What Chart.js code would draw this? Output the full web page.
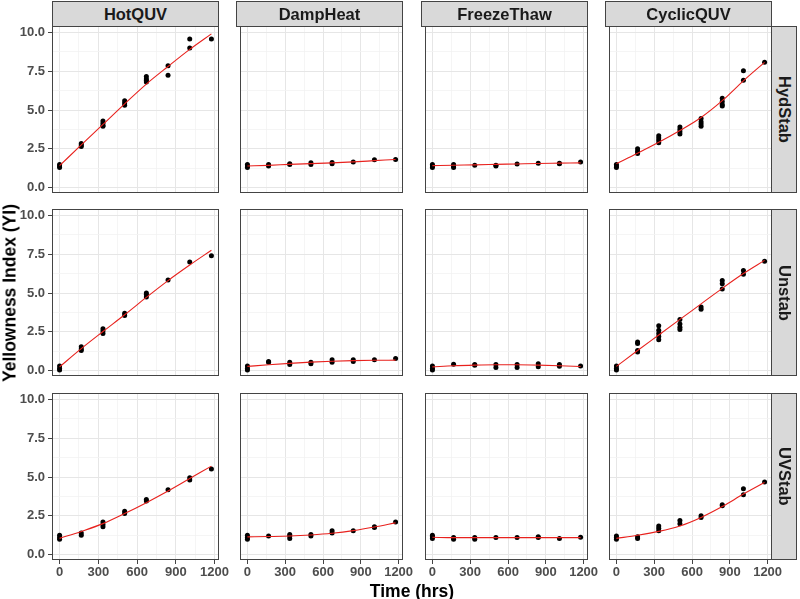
<!DOCTYPE html>
<html>
<head>
<meta charset="utf-8">
<script src="https://cdn.jsdelivr.net/npm/chart.js@4.4.1/dist/chart.umd.min.js"></script>
<style>
  html, body { margin: 0; padding: 0; background: #ffffff; }
  #root { position: relative; width: 800px; height: 599px; overflow: hidden; background: #fff;
          font-family: "Liberation Sans", Arial, sans-serif; }
  canvas { position: absolute; }
  .strip { position: absolute; box-sizing: border-box; background: #d9d9d9; border: 1px solid #444;
           color: #1a1a1a; font-weight: bold; font-size: 16.5px; display: flex; align-items: center;
           justify-content: center; }
  .strip.right span { writing-mode: vertical-rl; }
  .title { position: absolute; font-weight: bold; font-size: 17.5px; color: #000; white-space: nowrap; }
</style>
</head>
<body>
<div id="root"></div>
<script>
// ---------------- data ----------------
const columns = ['HotQUV', 'DampHeat', 'FreezeThaw', 'CyclicQUV'];
const rows = ['HydStab', 'Unstab', 'UVStab'];
const times = [0, 168, 336, 504, 672, 840, 1008, 1176];
const xTicks = [0, 300, 600, 900, 1200];
const xMinor = [150, 450, 750, 1050];
const yTicks = [0, 2.5, 5, 7.5, 10];
const yMinor = [1.25, 3.75, 6.25, 8.75];

// HydStab row
const hotquvHydstab = [[1.5,1.4,1.3],[2.85,2.75,2.65],[4.3,4.15,4.0,3.95],[5.6,5.45,5.3],[7.15,7.0,6.9,6.8],[7.85,7.23],[9.57,8.99],[9.57]];
const hotquvHydstabFit = [1.42,2.75,4.07,5.4,6.67,7.8,8.9,9.9];
const dampheatHydstab = [[1.5,1.4,1.3],[1.5,1.4],[1.55,1.5],[1.6,1.5],[1.62,1.55],[1.65],[1.8],[1.82]];
const dampheatHydstabFit = [1.4,1.44,1.5,1.55,1.6,1.66,1.74,1.82];
const freezethawHydstab = [[1.5,1.4,1.3],[1.5,1.4,1.3],[1.45],[1.45,1.4],[1.52],[1.58],[1.58,1.55],[1.65]];
const freezethawHydstabFit = [1.42,1.45,1.47,1.5,1.53,1.56,1.58,1.6];
const cyclicquvHydstab = [[1.5,1.4,1.3],[2.5,2.35,2.2],[3.35,3.2,3.05,2.9],[3.9,3.75,3.6,3.45],[4.45,4.25,4.1,3.95],[5.75,5.55,5.35,5.25],[7.53,6.91],[8.07]];
const cyclicquvHydstabFit = [1.55,2.22,2.92,3.68,4.52,5.6,6.88,8.07];

// Unstab row
const hotquvUnstab = [[0.3,0.15,0.05],[1.55,1.4,1.3],[2.7,2.55,2.4],[3.7,3.55],[5.0,4.9,4.75],[5.84],[7.0],[7.39]];
const hotquvUnstabFit = [0.25,1.42,2.52,3.6,4.72,5.8,6.8,7.75];
const dampheatUnstab = [[0.3,0.15,0.05],[0.6,0.55],[0.55,0.4],[0.55,0.45],[0.7,0.55],[0.7,0.6],[0.7],[0.78]];
const dampheatUnstabFit = [0.28,0.38,0.47,0.55,0.61,0.65,0.67,0.68];
const freezethawUnstab = [[0.3,0.15,0.05],[0.42],[0.4,0.35],[0.4,0.2],[0.4,0.2],[0.45,0.25],[0.4,0.28],[0.3]];
const freezethawUnstabFit = [0.25,0.32,0.36,0.38,0.38,0.36,0.32,0.27];
const cyclicquvUnstab = [[0.3,0.15,0.05],[1.85,1.75,1.3,1.2],[2.9,2.6,2.4,2.2,2.0],[3.3,3.0,2.8,2.65],[4.1,3.95],[5.8,5.6,5.25],[6.45,6.2],[7.04]];
const cyclicquvUnstabFit = [0.28,1.3,2.3,3.3,4.3,5.3,6.25,7.1];

// UVStab row
const hotquvUvstab = [[1.25,1.1,1.0],[1.4,1.25],[2.1,1.95,1.8],[2.8,2.65],[3.55,3.45],[4.18],[4.95,4.8],[5.51]];
const hotquvUvstabFit = [1.05,1.5,2.0,2.65,3.35,4.1,4.9,5.7];
const dampheatUvstab = [[1.25,1.1,1.0],[1.2],[1.3,1.2,1.05],[1.3,1.2],[1.55,1.4],[1.55],[1.8,1.75],[2.1]];
const dampheatUvstabFit = [1.15,1.17,1.2,1.27,1.38,1.55,1.78,2.05];
const freezethawUvstab = [[1.25,1.15,1.05],[1.1,1.0],[1.1,1.0],[1.1],[1.1],[1.15,1.1],[1.05],[1.12]];
const freezethawUvstabFit = [1.12,1.1,1.1,1.1,1.1,1.1,1.1,1.1];
const cyclicquvUvstab = [[1.2,1.1,1.0],[1.15,1.05],[1.85,1.7,1.55],[2.2,2.0],[2.5,2.4],[3.21,3.15],[4.25,3.86],[4.68]];
const cyclicquvUvstabFit = [1.05,1.25,1.5,1.85,2.4,3.1,3.9,4.65];

const panelPoints = [
  [hotquvHydstab, dampheatHydstab, freezethawHydstab, cyclicquvHydstab],
  [hotquvUnstab, dampheatUnstab, freezethawUnstab, cyclicquvUnstab],
  [hotquvUvstab, dampheatUvstab, freezethawUvstab, cyclicquvUvstab]
];
const panelFits = [
  [hotquvHydstabFit, dampheatHydstabFit, freezethawHydstabFit, cyclicquvHydstabFit],
  [hotquvUnstabFit, dampheatUnstabFit, freezethawUnstabFit, cyclicquvUnstabFit],
  [hotquvUvstabFit, dampheatUvstabFit, freezethawUvstabFit, cyclicquvUvstabFit]
];

// ---------------- layout ----------------
const root = document.getElementById('root');
Chart.defaults.font.family = '"Liberation Sans", Arial, sans-serif';
const colLeft = [52, 236, 421, 605];
const rowTop = [26, 209, 393];
const PW = 167, PH = 167;
const YAXW = 52, XAXH = 30, MT = 6, MR = 18, MB = 6;

const borderPlugin = {
  id: 'panelBorder',
  afterDraw(chart) {
    const a = chart.chartArea, ctx = chart.ctx;
    ctx.save();
    ctx.strokeStyle = '#444';
    ctx.lineWidth = 1;
    ctx.strokeRect(Math.round(a.left) + 0.5, Math.round(a.top) + 0.5,
                   Math.round(a.right - a.left) - 1, Math.round(a.bottom - a.top) - 1);
    ctx.restore();
  }
};

function isIn(arr, v) { return arr.some(t => Math.abs(t - v) < 1e-9); }

for (let r = 0; r < rows.length; r++) {
  for (let c = 0; c < columns.length; c++) {
    const showY = c === 0, showX = r === rows.length - 1;
    const left = colLeft[c] - (showY ? YAXW : 0);
    const top = rowTop[r] - MT;
    const w = PW + (showY ? YAXW : 0) + MR;
    const h = PH + MT + (showX ? XAXH : MB);
    const cv = document.createElement('canvas');
    cv.width = w; cv.height = h;
    cv.style.left = left + 'px'; cv.style.top = top + 'px';
    cv.style.width = w + 'px'; cv.style.height = h + 'px';
    root.appendChild(cv);

    const pts = [];
    panelPoints[r][c].forEach((vals, i) => vals.forEach(v => pts.push({ x: times[i], y: v })));
    const fit = panelFits[r][c].map((v, i) => ({ x: times[i], y: v }));

    new Chart(cv, {
      type: 'scatter',
      data: {
        datasets: [
          { data: fit, showLine: true, borderColor: '#e8211d', borderWidth: 1.1, pointRadius: 0,
            cubicInterpolationMode: 'monotone', fill: false },
          { data: pts, backgroundColor: '#000', borderColor: '#000', pointRadius: 2.5, borderWidth: 0 }
        ]
      },
      options: {
        responsive: false, animation: false, devicePixelRatio: 1,
        layout: { padding: { top: MT, right: MR, bottom: showX ? 0 : MB, left: 0 } },
        plugins: { legend: { display: false }, tooltip: { enabled: false } },
        scales: {
          x: {
            type: 'linear', min: -58.8, max: 1234.8,
            afterBuildTicks(s) { s.ticks = xTicks.concat(xMinor).sort((a, b) => a - b).map(v => ({ value: v })); },
            afterFit(s) { s.height = showX ? XAXH : 0; s.paddingLeft = 0; s.paddingRight = 0; },
            border: { display: false },
            grid: {
              drawTicks: showX, tickLength: 4,
              color: ctx => isIn(xTicks, ctx.tick.value) ? '#e6e6e6' : '#f2f2f2',
              lineWidth: ctx => isIn(xTicks, ctx.tick.value) ? 1 : 0.8,
              tickColor: ctx => isIn(xTicks, ctx.tick.value) ? '#444' : 'rgba(0,0,0,0)',
              tickWidth: 1
            },
            ticks: {
              display: showX, padding: 1, color: '#4d4d4d', maxRotation: 0, autoSkip: false,
              font: { size: 13, weight: 'bold' },
              callback: v => isIn(xTicks, v) ? String(v) : ''
            }
          },
          y: {
            type: 'linear', min: -0.34, max: 10.405,
            afterBuildTicks(s) { s.ticks = yTicks.concat(yMinor).sort((a, b) => a - b).map(v => ({ value: v })); },
            afterFit(s) { s.width = showY ? YAXW : 0; s.paddingTop = 0; s.paddingBottom = 0; },
            border: { display: false },
            grid: {
              drawTicks: showY, tickLength: 4,
              color: ctx => isIn(yTicks, ctx.tick.value) ? '#e6e6e6' : '#f2f2f2',
              lineWidth: ctx => isIn(yTicks, ctx.tick.value) ? 1 : 0.8,
              tickColor: ctx => isIn(yTicks, ctx.tick.value) ? '#444' : 'rgba(0,0,0,0)',
              tickWidth: 1
            },
            ticks: {
              display: showY, padding: 3, color: '#4d4d4d', autoSkip: false,
              font: { size: 13, weight: 'bold' },
              callback: v => isIn(yTicks, v) ? v.toFixed(1) : ''
            }
          }
        }
      },
      plugins: [borderPlugin]
    });
  }
}

// strips
columns.forEach((name, c) => {
  const d = document.createElement('div');
  d.className = 'strip';
  d.style.left = colLeft[c] + 'px'; d.style.top = '1px';
  d.style.width = PW + 'px'; d.style.height = '26px';
  d.textContent = name;
  root.appendChild(d);
});
rows.forEach((name, r) => {
  const d = document.createElement('div');
  d.className = 'strip right';
  d.style.left = (colLeft[3] + PW - 1) + 'px'; d.style.top = rowTop[r] + 'px';
  d.style.width = '26px'; d.style.height = PH + 'px';
  const s = document.createElement('span'); s.textContent = name; d.appendChild(s);
  root.appendChild(d);
});

// axis titles
const xt = document.createElement('div');
xt.className = 'title'; xt.textContent = 'Time (hrs)';
xt.style.left = '412px'; xt.style.top = '591px'; xt.style.transform = 'translate(-50%, -50%)';
root.appendChild(xt);
const yt = document.createElement('div');
yt.className = 'title'; yt.textContent = 'Yellowness Index (YI)';
yt.style.left = '10px'; yt.style.top = '293px'; yt.style.transform = 'translate(-50%, -50%) rotate(-90deg)';
root.appendChild(yt);
</script>
</body>
</html>
